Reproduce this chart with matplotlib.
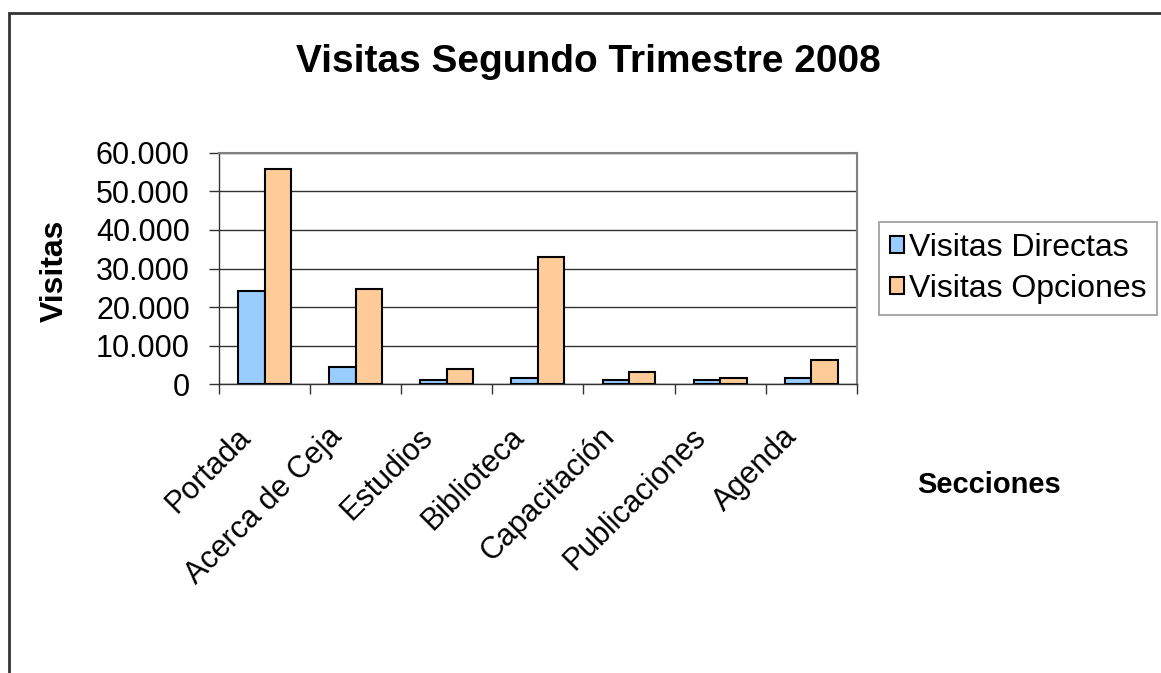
import numpy as np
import matplotlib
matplotlib.use('Agg')
import matplotlib.pyplot as plt
from matplotlib.patches import Rectangle
from matplotlib.ticker import FuncFormatter, FixedLocator
from matplotlib.transforms import ScaledTranslation

plt.rcParams['font.family'] = ['Liberation Sans', 'DejaVu Sans']

secciones = ['Portada', 'Acerca de Ceja', 'Estudios', 'Biblioteca',
             'Capacitación', 'Publicaciones', 'Agenda']
directas = [24200, 4600, 1000, 1500, 1000, 1000, 1500]
opciones = [55800, 24700, 4000, 33000, 3100, 1500, 6200]

fig = plt.figure(figsize=(11.61, 6.73), dpi=100)
ax = fig.add_axes([0.1886, 0.429, 0.5494, 0.344])

x = np.arange(len(secciones))
w = 0.29
ax.bar(x - w / 2, directas, w, color='#99CCFF', edgecolor='black', linewidth=1.5,
       label='Visitas Directas', zorder=3)
ax.bar(x + w / 2, opciones, w, color='#FFCC99', edgecolor='black', linewidth=1.5,
       label='Visitas Opciones', zorder=3)

ax.set_xlim(-0.5, len(secciones) - 0.5)
ax.set_ylim(0, 60000)
ax.set_yticks(range(0, 60001, 10000))
ax.yaxis.set_major_formatter(FuncFormatter(lambda v, p: f'{int(v):,}'.replace(',', '.')))
ax.grid(axis='y', color='#333333', linewidth=1, zorder=0)

ax.set_xticks(x)
ax.set_xticklabels(secciones, rotation=45, ha='right', va='top', rotation_mode='anchor')
ax.tick_params(axis='x', length=0, labelsize=22, pad=27)
# desplazar etiquetas a la izquierda como en Excel
off = ScaledTranslation(-29 / 100, 0, fig.dpi_scale_trans)
for lbl in ax.get_xticklabels():
    lbl.set_transform(lbl.get_transform() + off)
ax.xaxis.set_minor_locator(FixedLocator(np.arange(-0.5, len(secciones), 1)))
ax.tick_params(axis='x', which='minor', length=7, width=1, color='#333333')
ax.tick_params(axis='y', length=7, width=1, labelsize=22, pad=14, color='#333333')

for s in ['top', 'right']:
    ax.spines[s].set_color('#808080')
    ax.spines[s].set_linewidth(1.5)
for s in ['left', 'bottom']:
    ax.spines[s].set_color('#333333')
    ax.spines[s].set_linewidth(1)

ax.set_ylabel('Visitas', fontsize=23, fontweight='bold')
ax.yaxis.set_label_coords(-0.2335, 0.489)
fig.text(0.507, 0.908, 'Visitas Segundo Trimestre 2008', fontsize=28,
         fontweight='bold', ha='center', va='center')
fig.text(0.852, 0.279, 'Secciones', fontsize=21, fontweight='bold',
         ha='center', va='center')

leg = ax.legend(loc='center left', bbox_to_anchor=(1.035, 0.5), fontsize=23,
                frameon=True, fancybox=False, edgecolor='#808080',
                handlelength=0.42, handleheight=0.42, handletextpad=0.15,
                borderpad=0.35, labelspacing=0.35, borderaxespad=0)
leg.get_frame().set_linewidth(1.2)

# marco exterior del gráfico
fig.patches.append(Rectangle((9 / 1161, -0.1), 1.2, 1 - 13 / 673 + 0.1,
                             transform=fig.transFigure, fill=False,
                             edgecolor='#333333', linewidth=2))

fig.savefig('out.png', dpi=100)
